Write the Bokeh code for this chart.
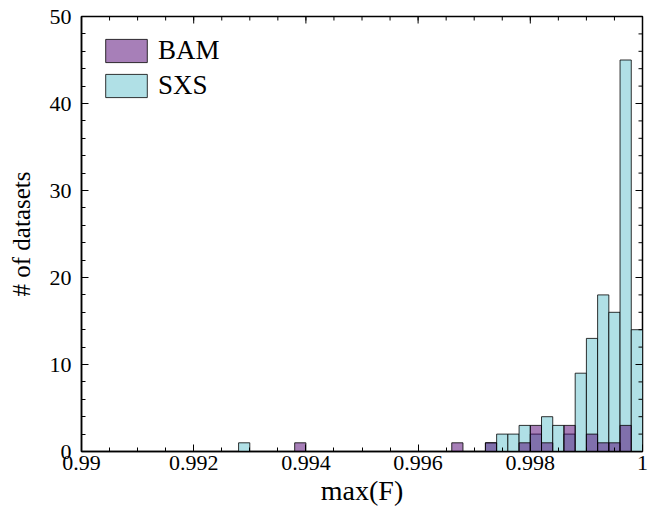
from bokeh.plotting import figure
from bokeh.models import (FixedTicker, Legend, LegendItem,
                          ColumnDataSource, Range1d)
from bokeh.embed import file_html
from bokeh.resources import INLINE

# ---- data (histogram of max(F), bin width 0.0002) ----
bin_width = 0.0002
sxs_left = [0.9928, 0.9972, 0.9974, 0.9976, 0.9978, 0.9980, 0.9982, 0.9984,
            0.9986, 0.9988, 0.9990, 0.9992, 0.9994, 0.9996, 0.9998]
sxs_count = [1, 1, 2, 2, 3, 2, 4, 3, 2, 9, 13, 18, 16, 45, 14]
bam_left = [0.9938, 0.9966, 0.9972, 0.9978, 0.9980, 0.9982, 0.9986,
            0.9990, 0.9992, 0.9994, 0.9996]
bam_count = [1, 1, 1, 1, 3, 1, 3, 2, 1, 1, 3]

x_min, x_max = 0.99, 1.0
y_min, y_max = 0, 50
x_ticks = [0.99, 0.992, 0.994, 0.996, 0.998, 1.0]
x_tick_labels = ["0.99", "0.992", "0.994", "0.996", "0.998", "1"]
x_minor = [round(0.99 + 0.0005 * i, 4) for i in range(21)]
y_ticks = [0, 10, 20, 30, 40, 50]
y_minor = list(range(0, 51, 2))

FONT = "Liberation Serif"

p = figure(width=651, height=515, x_range=Range1d(x_min, x_max),
           y_range=Range1d(y_min, y_max), output_backend="svg",
           toolbar_location=None, min_border_left=81, min_border_right=9,
           min_border_top=16, min_border_bottom=64)
p.xgrid.visible = False
p.ygrid.visible = False
p.outline_line_color = "black"
p.outline_line_width = 1.5
p.background_fill_color = "white"
p.border_fill_color = "white"

sxs_src = ColumnDataSource(dict(left=sxs_left,
                                right=[v + bin_width for v in sxs_left],
                                top=sxs_count))
bam_src = ColumnDataSource(dict(left=bam_left,
                                right=[v + bin_width for v in bam_left],
                                top=bam_count))

r_sxs = p.quad(left="left", right="right", bottom=0, top="top", source=sxs_src,
               fill_color="#b0e0e6", fill_alpha=1.0, line_color="black",
               line_alpha=0.8, line_width=1)
r_bam = p.quad(left="left", right="right", bottom=0, top="top", source=bam_src,
               fill_color="#4f0071", fill_alpha=0.5, line_color="black",
               line_alpha=0.8, line_width=1)

xt = FixedTicker(ticks=x_ticks, minor_ticks=x_minor)
yt = FixedTicker(ticks=y_ticks, minor_ticks=y_minor)


def style_axis(ax):
    ax.axis_line_color = "black"
    ax.axis_line_width = 1.5
    ax.major_tick_in = 7
    ax.major_tick_out = 0
    ax.minor_tick_in = 4
    ax.minor_tick_out = 0
    ax.major_tick_line_color = "black"
    ax.minor_tick_line_color = "black"
    ax.major_tick_line_width = 1
    ax.minor_tick_line_width = 1
    ax.major_label_text_font = FONT
    ax.major_label_text_color = "black"
    ax.axis_label_text_font = FONT
    ax.axis_label_text_font_style = "normal"
    ax.axis_label_text_color = "black"


xa = p.xaxis[0]
xa.ticker = xt
xa.major_label_overrides = {v: s for v, s in zip(x_ticks, x_tick_labels)}
style_axis(xa)
xa.major_label_text_font_size = "22px"
xa.major_label_standoff = 4
xa.axis_label = "max(F)"
xa.axis_label_text_font_size = "28px"
xa.axis_label_standoff = 2

ya = p.yaxis[0]
ya.ticker = yt
style_axis(ya)
ya.major_label_text_font_size = "22px"
ya.major_label_standoff = 10
ya.axis_label = "# of datasets"
ya.axis_label_text_font_size = "25px"
ya.axis_label_standoff = 12

# mirrored inward ticks on the top and right edges of the frame
p.ray(x=x_ticks, y=[y_max] * len(x_ticks), length=7, length_units="screen",
      angle=-90, angle_units="deg", line_color="black", line_width=1)
p.ray(x=x_minor, y=[y_max] * len(x_minor), length=4, length_units="screen",
      angle=-90, angle_units="deg", line_color="black", line_width=1)
p.ray(x=[x_max] * len(y_ticks), y=y_ticks, length=7, length_units="screen",
      angle=180, angle_units="deg", line_color="black", line_width=1)
p.ray(x=[x_max] * len(y_minor), y=y_minor, length=4, length_units="screen",
      angle=180, angle_units="deg", line_color="black", line_width=1)

legend = Legend(items=[LegendItem(label="BAM", renderers=[r_bam]),
                       LegendItem(label="SXS", renderers=[r_sxs])],
                location="top_left")
legend.label_text_font = FONT
legend.label_text_font_size = "27px"
legend.label_text_color = "black"
legend.glyph_width = 52
legend.glyph_height = 29
legend.label_height = 29
legend.label_standoff = 6
legend.spacing = 4
legend.margin = 19
legend.padding = 12
legend.border_line_color = None
legend.background_fill_alpha = 0
p.add_layout(legend)

open("out.html", "w").write(file_html(p, INLINE))
